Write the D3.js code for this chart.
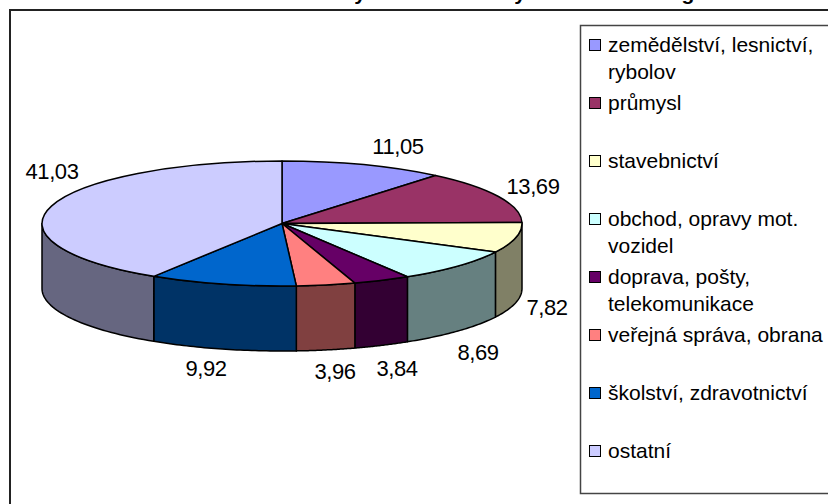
<!DOCTYPE html>
<html>
<head>
<meta charset="utf-8">
<script src="https://cdn.jsdelivr.net/npm/d3@7/dist/d3.min.js"></script>
<style>
  html, body { margin: 0; padding: 0; background: #fff; }
  svg { display: block; }
  text { font-family: "Liberation Sans", Arial, sans-serif; fill: #000; }
</style>
</head>
<body>
<div id="chart"></div>
<script>
// Data
const categories = [
  "zemědělství, lesnictví, rybolov", "průmysl", "stavebnictví", "obchod, opravy mot. vozidel",
  "doprava, pošty, telekomunikace", "veřejná správa, obrana", "školství, zdravotnictví", "ostatní"
];
const values = [11.05, 13.69, 7.82, 8.69, 3.84, 3.96, 9.92, 41.03];
const valueLabels = ["11,05", "13,69", "7,82", "8,69", "3,84", "3,96", "9,92", "41,03"];
const legendLines = [
  ["zemědělství, lesnictví,", "rybolov"], ["průmysl"], ["stavebnictví"], ["obchod, opravy mot.", "vozidel"],
  ["doprava, pošty,", "telekomunikace"], ["veřejná správa, obrana"], ["školství, zdravotnictví"], ["ostatní"]
];
const sliceColors = ["#9999ff", "#993366", "#ffffcc", "#ccffff", "#660066", "#ff8080", "#0066cc", "#ccccff"];
// The title is cut off by the top of the picture, only these descenders show
const titleDescenders = ["y", "y", "g"];

// Layout
const width = 828, height = 504;
const cx = 282, cy = 223.5, rx = 240, ry = 62.5, depth = 65;
const labelCenters = [[398, 146], [533, 186], [547, 307], [478, 352], [397, 368], [335, 371], [206, 368], [52, 171]];
const titleX = [360, 520, 688];

const svg = d3.select("#chart").append("svg")
  .attr("width", width)
  .attr("height", height);

// Outer frame, runs off the right and bottom edge
svg.append("rect")
  .attr("x", 10).attr("y", 10)
  .attr("width", width + 20).attr("height", height + 20)
  .attr("fill", "#fff")
  .attr("stroke", "#222")
  .attr("stroke-width", 2);

// Cut off title
svg.selectAll(".title-piece")
  .data(titleDescenders)
  .enter().append("text")
    .attr("class", "title-piece")
    .attr("x", (d, i) => titleX[i])
    .attr("y", 0)
    .attr("text-anchor", "middle")
    .style("font-size", "21px")
    .style("font-weight", "bold")
    .text(d => d);

// Pie angles
const pie = d3.pie().sort(null).startAngle(0).endAngle(2 * Math.PI);
const slices = pie(values).map((d, i) => ({...d, color: sliceColors[i]}));

const rimX = a => cx + rx * Math.sin(a);
const rimY = a => cy - ry * Math.cos(a);
const halfColor = c => {
  const rgb = d3.rgb(c);
  return d3.rgb(rgb.r / 2, rgb.g / 2, rgb.b / 2).formatHex();
};

// Side walls, only the front half of the rim is visible
const front = [Math.PI / 2, 3 * Math.PI / 2];
const wallLine = d3.line();
svg.selectAll(".wall")
  .data(slices.filter(d => d.endAngle > front[0] && d.startAngle < front[1]))
  .enter().append("path")
    .attr("class", "wall")
    .attr("fill", d => halfColor(d.color))
    .attr("stroke", "#000")
    .attr("stroke-width", 1.5)
    .attr("stroke-linejoin", "round")
    .attr("d", d => {
      const a0 = Math.max(d.startAngle, front[0]);
      const a1 = Math.min(d.endAngle, front[1]);
      const steps = d3.range(0, 41).map(k => a0 + (a1 - a0) * k / 40);
      const upper = steps.map(a => [rimX(a), rimY(a)]);
      const lower = steps.slice().reverse().map(a => [rimX(a), rimY(a) + depth]);
      return wallLine(upper.concat(lower)) + "Z";
    });

// Top face, round arc squashed into the ellipse
const arc = d3.arc().innerRadius(0).outerRadius(rx);
svg.append("g")
  .attr("transform", `translate(${cx},${cy}) scale(1,${ry / rx})`)
  .selectAll("path")
  .data(slices)
  .enter().append("path")
    .attr("d", arc)
    .attr("fill", d => d.color)
    .attr("stroke", "#000")
    .attr("stroke-width", 1.5)
    .attr("stroke-linejoin", "round")
    .attr("vector-effect", "non-scaling-stroke");

// Value labels
svg.selectAll(".value-label")
  .data(valueLabels)
  .enter().append("text")
    .attr("class", "value-label")
    .attr("x", (d, i) => labelCenters[i][0])
    .attr("y", (d, i) => labelCenters[i][1])
    .attr("dy", "0.35em")
    .attr("text-anchor", "middle")
    .style("font-size", "22px")
    .style("letter-spacing", "-0.4px")
    .text(d => d);

// Legend
svg.append("rect")
  .attr("x", 580.5).attr("y", 25.5)
  .attr("width", width).attr("height", 468)
  .attr("fill", "#fff")
  .attr("stroke", "#444")
  .attr("stroke-width", 1.5);

const legendY = d3.scalePoint()
  .domain(categories)
  .range([45, 451]);

const legendItems = svg.selectAll(".legend-item")
  .data(categories)
  .enter().append("g")
    .attr("class", "legend-item")
    .attr("transform", d => `translate(589,${legendY(d)})`);

legendItems.append("rect")
  .attr("x", 0.5).attr("y", -5.5)
  .attr("width", 11).attr("height", 11)
  .attr("fill", (d, i) => sliceColors[i])
  .attr("stroke", "#000");

legendItems.selectAll("text")
  .data((d, i) => legendLines[i])
  .enter().append("text")
    .attr("x", 19)
    .attr("y", (d, i) => i * 27)
    .attr("dy", "0.35em")
    .style("font-size", "21px")
    .text(d => d);
</script>
</body>
</html>
